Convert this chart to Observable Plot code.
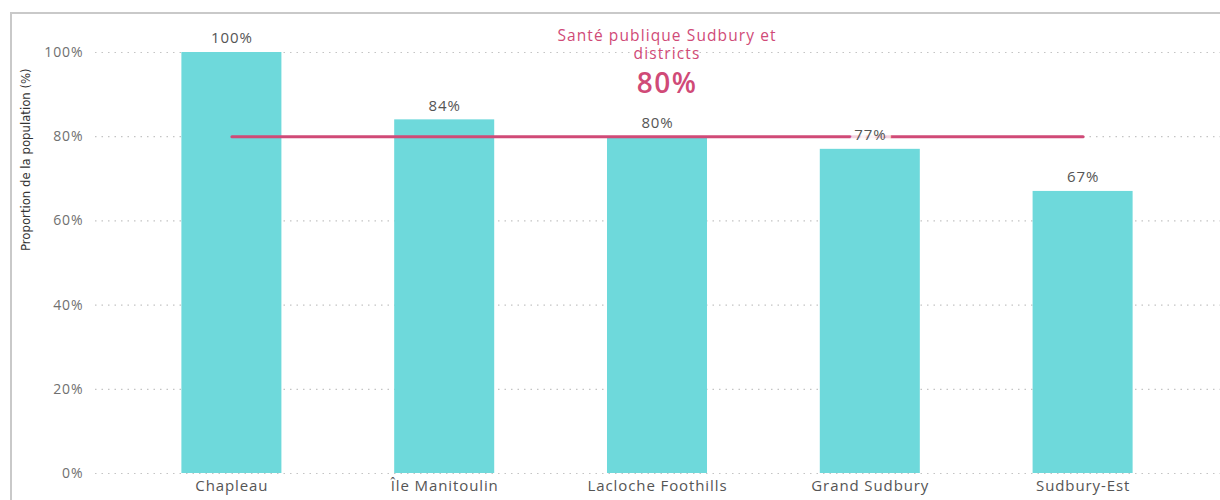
<!DOCTYPE html>
<html>
<head>
<meta charset="utf-8">
<script src="https://cdn.jsdelivr.net/npm/d3@7"></script>
<script src="https://cdn.jsdelivr.net/npm/@observablehq/plot@0.6"></script>
<style>
  html, body { margin: 0; padding: 0; background: white; overflow: hidden; }
  #wrap { position: relative; width: 1220px; height: 500px; }
  #border { position: absolute; left: 10px; top: 12px; width: 1215px; height: 495px;
            border-left: 2px solid #c9c9c9; border-top: 2px solid #c9c9c9; pointer-events: none; }
  svg text { letter-spacing: 0.9px; }
  svg g.ytitle text { letter-spacing: 0; }
  svg g.bench text { letter-spacing: 1.1px; }
  svg g.benchbig text { letter-spacing: 1.5px; }
</style>
</head>
<body>
<div id="wrap"><div id="border"></div></div>
<script>
const categories = ["Chapleau", "Île Manitoulin", "Lacloche Foothills", "Grand Sudbury", "Sudbury-Est"];
const values = [100, 84, 80, 77, 67];
const valueLabels = ["100%", "84%", "80%", "77%", "67%"];
const benchmarkValue = 80;
const benchmarkName = "Santé publique Sudbury et\ndistricts";
const benchmarkLabel = "80%";
const yTicks = [0, 20, 40, 60, 80, 100];
const yTitle = "Proportion de la population (%)";

const data = categories.map((c, i) => ({cat: c, value: values[i], label: valueLabels[i]}));
const bench = [categories[0], categories[categories.length - 1]].map(c => ({cat: c, value: benchmarkValue}));

const pink = "#d04a77";
const font = "'Open Sans', sans-serif";

const chart = Plot.plot({
  width: 1220,
  height: 500,
  marginLeft: 95,
  marginRight: 0,
  marginTop: 52,
  marginBottom: 27,
  style: {fontFamily: font, background: "transparent"},
  x: {domain: categories, paddingInner: 0.53, paddingOuter: 0.265, insetLeft: 30, insetRight: 31, round: false, label: null},
  y: {domain: [0, 100], label: null},
  marks: [
    Plot.gridY(yTicks, {stroke: "#c4c4c4", strokeOpacity: 1, strokeWidth: 1.2, strokeDasharray: "1.5,5"}),
    Plot.barY(data, {x: "cat", y: "value", fill: "#6ED9DB"}),
    Plot.lineY(bench, {x: "cat", y: "value", stroke: pink, strokeWidth: 3}),
    Plot.text(data, {x: "cat", y: "value", text: "label", dy: -14, fill: "#555", fontSize: 15,
      stroke: "white", strokeOpacity: 0.75, strokeWidth: 12, strokeLinejoin: "round"}),
    Plot.axisY(yTicks, {tickSize: 0, tickPadding: 12, tickFormat: d => d + "%", fontSize: 14, fill: "#707070", label: null}),
    Plot.axisX({tickSize: 0, tickPadding: 7, fontSize: 15, fill: "#555", label: null}),
    Plot.text([yTitle], {frameAnchor: "left", rotate: -90, dx: -70, dy: -12, fontSize: 13, className: "ytitle",
      fontFamily: "'Liberation Sans Narrow', 'DejaVu Sans Condensed', sans-serif", fill: "#333"}),
    Plot.text([benchmarkName], {frameAnchor: "top", lineAnchor: "middle", dx: 9, dy: -8.5, fontSize: 15.5, lineHeight: 1.15, fill: pink, className: "bench"}),
    Plot.text([benchmarkLabel], {frameAnchor: "top", lineAnchor: "middle", dx: 9, dy: 32, fontSize: 28, fontWeight: 600, fill: pink, className: "benchbig"})
  ]
});
document.getElementById("wrap").insertBefore(chart, document.getElementById("border"));
</script>
</body>
</html>
